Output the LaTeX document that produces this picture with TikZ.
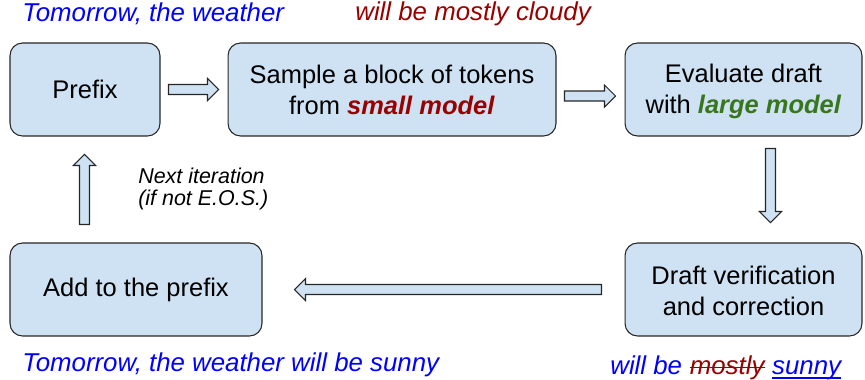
\documentclass[tikz,border=0pt]{standalone}
\usepackage{fontspec}
\setmainfont{Liberation Sans}
\usetikzlibrary{calc}
\definecolor{boxblue}{HTML}{CFE2F3}
\definecolor{darkred}{HTML}{990000}
\definecolor{darkgreen}{HTML}{38761D}
\tikzset{
  stepbox/.style={draw=black!85, fill=boxblue, rounded corners=0.25cm, line width=0.6pt,
    minimum height=1.86cm, align=center, font=\fontsize{14.5}{17.6}\selectfont},
  arrowbody/.style={draw=black!85, fill=boxblue, line width=0.6pt},
  pics/blockarr/.style={code={
    \draw[arrowbody] (0,-5) -- (#1-11,-5) -- (#1-11,-11) -- (#1,0) -- (#1-11,11) -- (#1-11,5) -- (0,5) -- cycle;}},
  outtext/.style={font=\fontsize{14.7}{17}\selectfont\itshape, anchor=west, inner sep=0pt}
}
\begin{document}
\begin{tikzpicture}[x=0.02cm, y=-0.02cm]
\useasboundingbox (0,0) rectangle (865,379);
% boxes
\node[stepbox, minimum width=3cm] (prefix) at (85,89.5) {Prefix};
\node[stepbox, minimum width=6.56cm] (sample) at (392,89.5) {Sample a block of tokens\\from \textcolor{darkred}{\textbf{\textit{small model}}}};
\node[stepbox, minimum width=4.74cm] (evaluate) at (743.5,89.5) {\strut Evaluate draft\\with \textcolor{darkgreen}{\textbf{\textit{large model}}}};
\node[stepbox, minimum width=4.74cm] (draft) at (743.5,289.5) {\strut Draft verification\\and correction};
\node[stepbox, minimum width=5.04cm] (add) at (136,289.5) {Add to the prefix};
% arrows
\pic at ($(prefix.east)+(8,0)$) {blockarr=50};
\pic at ($(sample.east)+(8,6.5)$) {blockarr=51};
\pic[rotate=-90] at ($(evaluate.south)+(27,12)$) {blockarr=74};
\pic[rotate=180] at ($(draft.west)+(-23,0)$) {blockarr=307};
\pic[rotate=90] at ($(add.north)+(-51.5,-18)$) {blockarr=70};
\node[align=left, anchor=west, inner sep=0pt, font=\fontsize{12.2}{13}\selectfont\itshape] (iter) at (138,189) {Next iteration\\(if not E.O.S.)};
% texts
\node[outtext, text=blue] (top1) at (22,14) {Tomorrow, the weather};
\node[outtext, text=darkred] (top2) at (355,14) {will be mostly cloudy};
\node[outtext, text=blue] (bot1) at (22,365) {Tomorrow, the weather will be sunny};
\node[outtext, text=blue] (bot2) at (610,365) {will be};
\node[outtext, text=darkred, anchor=base west, xshift=4pt] (mostly) at (bot2.base east) {mostly};
\node[outtext, text=blue, anchor=base west, xshift=4pt] (sunny) at (mostly.base east) {sunny};
\draw[darkred, line width=0.9pt] ([yshift=3.8pt]mostly.base west) -- ([yshift=3.8pt]mostly.base east);
\draw[blue, line width=0.9pt] ([yshift=-2pt]sunny.base west) -- ([yshift=-2pt]sunny.base east);
\end{tikzpicture}
\end{document}
